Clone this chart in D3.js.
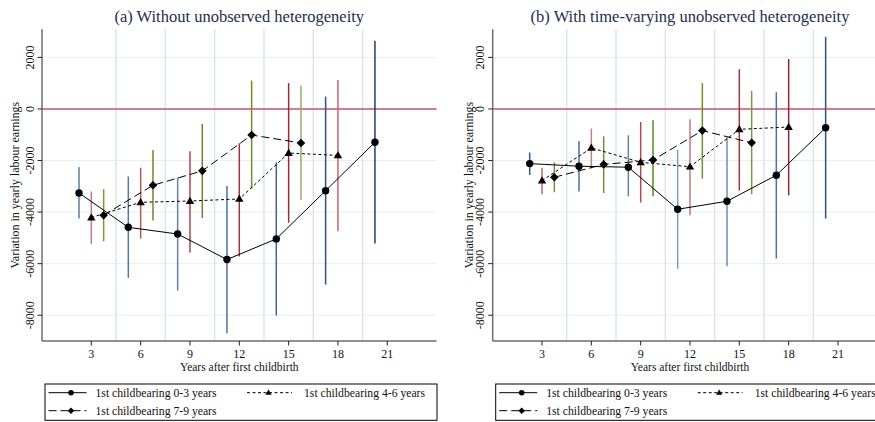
<!DOCTYPE html>
<html>
<head>
<meta charset="utf-8">
<script src="https://cdn.jsdelivr.net/npm/d3@7"></script>
<style>
  body { margin: 0; background: #fff; }
  svg { font-family: "Liberation Serif", "Times New Roman", serif; }
</style>
</head>
<body>
<svg id="chart" width="875" height="422"></svg>
<script>
// years after first childbirth
var years = [3, 6, 9, 12, 15, 18, 21];
var xTicks = [3, 6, 9, 12, 15, 18, 21];
var yTicks = [-8000, -6000, -4000, -2000, 0, 2000];
var vLines = [4.5, 7.5, 10.5, 13.5, 16.5, 19.5];

// (a) without unobserved heterogeneity
var a_g1_est = [-3260, -4590, -4850, -5840, -5040, -3170, -1290];
var a_g1_lo  = [-4250, -6550, -7050, -8700, -8010, -6810, -5220];
var a_g1_hi  = [-2250, -2620, -2660, -2990, -2070, 480, 2650];
var a_g2_est = [-4210, -3620, -3570, -3490, -1710, -1800];
var a_g2_lo  = [-5230, -5030, -5570, -5720, -4410, -4740];
var a_g2_hi  = [-3200, -2280, -1640, -1330, 1000, 1120];
var a_g3_est = [-4120, -2960, -2400, -1010, -1320];
var a_g3_lo  = [-5130, -4330, -4230, -3090, -3530];
var a_g3_hi  = [-3110, -1590, -580, 1100, 900];

// (b) with time-varying unobserved heterogeneity
var b_g1_est = [-2120, -2220, -2260, -3890, -3580, -2570, -730];
var b_g1_lo  = [-2560, -3200, -3390, -6200, -6100, -5800, -4250];
var b_g1_hi  = [-1690, -1240, -1020, -1590, -1100, 650, 2800];
var b_g2_est = [-2780, -1510, -2070, -2240, -790, -700];
var b_g2_lo  = [-3310, -2310, -3630, -4120, -3170, -3350];
var b_g2_hi  = [-2280, -760, -500, -400, 1540, 1940];
var b_g3_est = [-2650, -2150, -1980, -840, -1310];
var b_g3_lo  = [-3230, -3260, -3390, -2700, -3310];
var b_g3_hi  = [-2070, -1060, -440, 1000, 700];

var legendLabels = ["1st childbearing 0-3 years", "1st childbearing 4-6 years", "1st childbearing 7-9 years"];

// styles
var offsets = [-0.75, 0, 0.75];
var dashes = [null, "3,2.5", "8,4"];
var ciColors = {
  a: [["#5b7fa8", "#55789f", "#6a83a0", "#4f729c", "#3f6696", "#2c5286", "#1f3f6e"],
      ["#c07a80", "#b5585e", "#a8464e", "#a0343c", "#962a35", "#c4666c"],
      ["#7a9440", "#6c8a2a", "#6b8530", "#6d8f2a", "#9aaa70"]],
  b: [["#2c5c94", "#4a72a0", "#5f82a8", "#7c9cbc", "#6b8db2", "#4f729a", "#2a5488"],
      ["#b86a70", "#c08088", "#b04a52", "#c07a80", "#a8343c", "#8c2a30"],
      ["#6e9438", "#6f9038", "#5c8a20", "#6c9228", "#7a9840"]]
};

var panels = [
  { key: "a", title: "(a) Without unobserved heterogeneity", x0: 42, yTitleX: 18.5,
    series: [[a_g1_est, a_g1_lo, a_g1_hi], [a_g2_est, a_g2_lo, a_g2_hi], [a_g3_est, a_g3_lo, a_g3_hi]] },
  { key: "b", title: "(b) With time-varying unobserved heterogeneity", x0: 492.7, yTitleX: 472.5,
    series: [[b_g1_est, b_g1_lo, b_g1_hi], [b_g2_est, b_g2_lo, b_g2_hi], [b_g3_est, b_g3_lo, b_g3_hi]] }
];

var svg = d3.select("#chart");
var top_ = 29.3, bottom = 341;

var y = d3.scaleLinear().domain([-9000, 3090]).range([bottom, top_]);

// marker: 0 circle, 1 triangle, 2 diamond
function marker(g, type, cx, cy, s) {
  var path;
  if (type == 0) {
    g.append("circle").attr("cx", cx).attr("cy", cy).attr("r", 3.7 * s).attr("fill", "#000");
    return;
  } else if (type == 1) {
    var h = 7.2 * s, w = 4.2 * s;
    path = "M0," + (-h * 0.6) + "L" + w + "," + (h * 0.4) + "L" + (-w) + "," + (h * 0.4) + "Z";
  } else {
    var r = 4.3 * s;
    path = "M0," + (-r) + "L" + r + ",0L0," + r + "L" + (-r) + ",0Z";
  }
  g.append("path").attr("d", path).attr("transform", "translate(" + cx + "," + cy + ")").attr("fill", "#000");
}

panels.forEach(function(p) {
  var x = d3.scaleLinear().domain([0, 24]).range([p.x0, p.x0 + 394.6]);
  var g = svg.append("g");

  // grid
  g.selectAll(".hg").data(yTicks.filter(function(d) { return d != 0; })).enter().append("line")
    .attr("x1", p.x0).attr("x2", x(24)).attr("y1", y).attr("y2", y)
    .attr("stroke", "#e6eff1").attr("stroke-width", 1);
  g.selectAll(".vg").data(vLines).enter().append("line")
    .attr("x1", x).attr("x2", x).attr("y1", top_).attr("y2", bottom)
    .attr("stroke", "#d9e7ec").attr("stroke-width", 1.5);

  // zero line
  g.append("line").attr("x1", p.x0).attr("x2", x(24)).attr("y1", y(0)).attr("y2", y(0))
    .attr("stroke", "#c4506e").attr("stroke-width", 1.6);

  // axes
  g.append("line").attr("x1", p.x0).attr("x2", p.x0).attr("y1", top_).attr("y2", bottom)
    .attr("stroke", "#6e6e6e").attr("stroke-width", 1.5);
  g.append("line").attr("x1", p.x0).attr("x2", x(24)).attr("y1", bottom).attr("y2", bottom)
    .attr("stroke", "#6e6e6e").attr("stroke-width", 1.5);

  yTicks.forEach(function(t) {
    g.append("line").attr("x1", p.x0 - 4.5).attr("x2", p.x0).attr("y1", y(t)).attr("y2", y(t))
      .attr("stroke", "#222").attr("stroke-width", 1);
    g.append("text").attr("transform", "translate(" + (p.x0 - 8.5) + "," + y(t) + ") rotate(-90)")
      .attr("text-anchor", "middle").attr("font-size", 12).attr("fill", "#111").text(t);
  });
  xTicks.forEach(function(t) {
    g.append("line").attr("x1", x(t)).attr("x2", x(t)).attr("y1", bottom).attr("y2", bottom + 4.5)
      .attr("stroke", "#222").attr("stroke-width", 1);
    g.append("text").attr("x", x(t)).attr("y", bottom + 16.5)
      .attr("text-anchor", "middle").attr("font-size", 12).attr("fill", "#111").text(t);
  });

  var cx = (p.x0 + x(24)) / 2;
  g.append("text").attr("x", cx).attr("y", 22).attr("text-anchor", "middle")
    .attr("font-size", 16.5).attr("fill", "#1e2d4f").text(p.title);
  g.append("text").attr("x", cx).attr("y", 370.5).attr("text-anchor", "middle")
    .attr("font-size", 11.5).attr("fill", "#111").text("Years after first childbirth");
  g.append("text").attr("transform", "translate(" + p.yTitleX + "," + ((top_ + bottom) / 2) + ") rotate(-90)")
    .attr("text-anchor", "middle").attr("font-size", 12).attr("fill", "#111")
    .text("Variation in yearly labour earnings");

  // confidence intervals
  p.series.forEach(function(s, si) {
    var est = s[0], lo = s[1], hi = s[2];
    est.forEach(function(v, i) {
      var xx = x(years[i] + offsets[si]);
      g.append("line").attr("x1", xx).attr("x2", xx).attr("y1", y(lo[i])).attr("y2", y(hi[i]))
        .attr("stroke", ciColors[p.key][si][i]).attr("stroke-width", 1.5);
    });
  });

  // estimate lines and markers
  p.series.forEach(function(s, si) {
    var est = s[0];
    var line = d3.line().x(function(d, i) { return x(years[i] + offsets[si]); }).y(function(d) { return y(d); });
    g.append("path").datum(est).attr("d", line).attr("fill", "none")
      .attr("stroke", "#000").attr("stroke-width", 1)
      .attr("stroke-dasharray", dashes[si]);
    est.forEach(function(v, i) {
      marker(g, si, x(years[i] + offsets[si]), y(v), 1);
    });
  });

  // legend
  var lg = g.append("g");
  lg.append("rect").attr("x", p.x0 + 3).attr("y", 384).attr("width", 392).attr("height", 36.3)
    .attr("fill", "#fff").attr("stroke", "#000").attr("stroke-width", 1);
  var items = [
    { si: 0, x1: 6.5, x2: 44.5, m: 29, tx: 53.5, cy: 392.7 },
    { si: 1, x1: 205, x2: 250, m: 226.5, tx: 262, cy: 392.7 },
    { si: 2, x1: 6.5, x2: 44.5, m: 29, tx: 53.5, cy: 410.7 }
  ];
  items.forEach(function(it) {
    lg.append("line").attr("x1", p.x0 + it.x1).attr("x2", p.x0 + it.x2).attr("y1", it.cy).attr("y2", it.cy)
      .attr("stroke", "#000").attr("stroke-width", 1).attr("stroke-dasharray", dashes[it.si]);
    marker(lg, it.si, p.x0 + it.m, it.cy, 0.75);
    lg.append("text").attr("x", p.x0 + it.tx).attr("y", it.cy + 4)
      .attr("font-size", 11.7).attr("fill", "#111").text(legendLabels[it.si]);
  });
});
</script>
</body>
</html>
